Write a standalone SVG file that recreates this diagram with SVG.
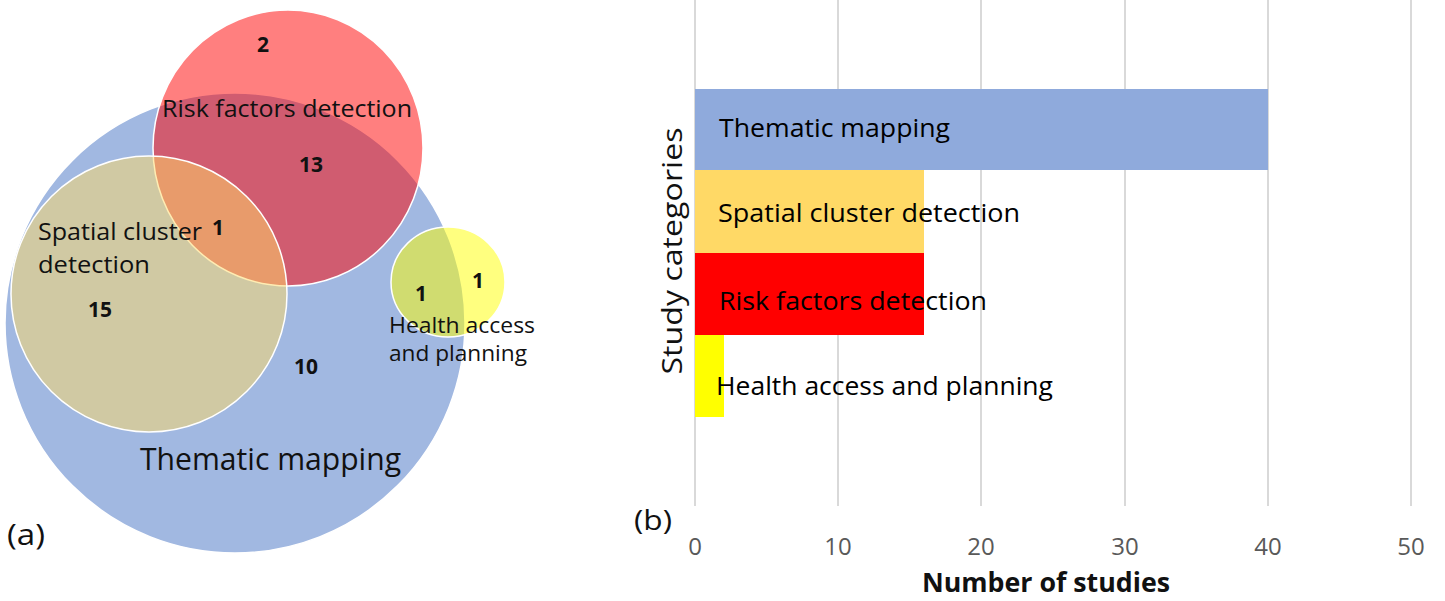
<svg xmlns="http://www.w3.org/2000/svg" width="1445" height="601" viewBox="0 0 1445 601">
<style>
text{font-family:"Open Sans","Noto Sans","Liberation Sans",sans-serif;fill:#111}
.num{font-weight:bold;font-size:21px;text-anchor:middle}
.lab{font-size:24px}
.grid{stroke:#d9d9d9;stroke-width:2}
.tick{font-size:24px;fill:#595959;text-anchor:middle}
.bl{font-size:26px;fill:#000}
.venn{stroke:#fff;stroke-width:1.5}
</style>
<rect width="1445" height="601" fill="#fff"/>
<g id="venn">
<g id="thematic"><circle class="venn" cx="235" cy="323" r="230" fill="#4472c4" fill-opacity="0.5"/></g>
<g id="risk"><ellipse class="venn" cx="288" cy="148" rx="135" ry="138" fill="#ff0000" fill-opacity="0.5"/></g>
<g id="spatial"><circle class="venn" cx="149" cy="294" r="138" fill="#ffd966" fill-opacity="0.5"/></g>
<g id="health"><ellipse class="venn" cx="448" cy="282" rx="57" ry="55" fill="#ffff00" fill-opacity="0.5"/></g>
<text class="num" x="263" y="52">2</text>
<text class="lab" x="162" y="117" textLength="250" lengthAdjust="spacingAndGlyphs">Risk factors detection</text>
<text class="num" x="311" y="172">13</text>
<text class="num" x="218" y="235">1</text>
<text class="lab" x="38" y="240" textLength="164" lengthAdjust="spacingAndGlyphs">Spatial cluster</text>
<text class="lab" x="38" y="273" textLength="112" lengthAdjust="spacingAndGlyphs">detection</text>
<text class="num" x="100" y="317">15</text>
<text class="num" x="306" y="374">10</text>
<text class="num" x="421" y="301">1</text>
<text class="num" x="478" y="288">1</text>
<text x="389" y="333" font-size="22" textLength="146" lengthAdjust="spacingAndGlyphs">Health access</text>
<text x="389" y="361" font-size="22" textLength="138" lengthAdjust="spacingAndGlyphs">and planning</text>
<text x="140" y="470" font-size="31" textLength="261" lengthAdjust="spacingAndGlyphs">Thematic mapping</text>
<text x="7" y="545" font-size="29" fill="#000" textLength="38" lengthAdjust="spacingAndGlyphs">(a)</text>
</g>
<g id="chart">
<g id="gridlines">
<line class="grid" x1="695" y1="0" x2="695" y2="506"/>
<line class="grid" x1="838" y1="0" x2="838" y2="506"/>
<line class="grid" x1="981" y1="0" x2="981" y2="506"/>
<line class="grid" x1="1125" y1="0" x2="1125" y2="506"/>
<line class="grid" x1="1268" y1="0" x2="1268" y2="506"/>
<line class="grid" x1="1411" y1="0" x2="1411" y2="506"/>
</g>
<g id="bar-thematic"><rect x="695" y="89" width="573" height="81" fill="#8faadc"/>
<text class="bl" x="719" y="137" textLength="231" lengthAdjust="spacingAndGlyphs">Thematic mapping</text></g>
<g id="bar-spatial"><rect x="695" y="170" width="229" height="83" fill="#ffd966"/>
<text class="bl" x="718" y="222" textLength="302" lengthAdjust="spacingAndGlyphs">Spatial cluster detection</text></g>
<g id="bar-risk"><rect x="695" y="253" width="229" height="82" fill="#ff0000"/>
<text class="bl" x="719" y="310" textLength="268" lengthAdjust="spacingAndGlyphs">Risk factors detection</text></g>
<g id="bar-health"><rect x="695" y="335" width="29" height="82" fill="#ffff00"/>
<text class="bl" x="716" y="395" textLength="337" lengthAdjust="spacingAndGlyphs">Health access and planning</text></g>
<text x="0" y="0" font-size="28" fill="#595959" text-anchor="middle" transform="translate(682,251) rotate(-90)" textLength="247" lengthAdjust="spacingAndGlyphs">Study categories</text>
<text class="tick" x="695" y="555">0</text>
<text class="tick" x="838" y="555">10</text>
<text class="tick" x="981" y="555">20</text>
<text class="tick" x="1125" y="555">30</text>
<text class="tick" x="1268" y="555">40</text>
<text class="tick" x="1411" y="555">50</text>
<text x="1046" y="592" font-size="26" font-weight="bold" fill="#595959" text-anchor="middle" textLength="248" lengthAdjust="spacingAndGlyphs">Number of studies</text>
<text x="634" y="530" font-size="27" fill="#000" textLength="38" lengthAdjust="spacingAndGlyphs">(b)</text>
</g>
</svg>
